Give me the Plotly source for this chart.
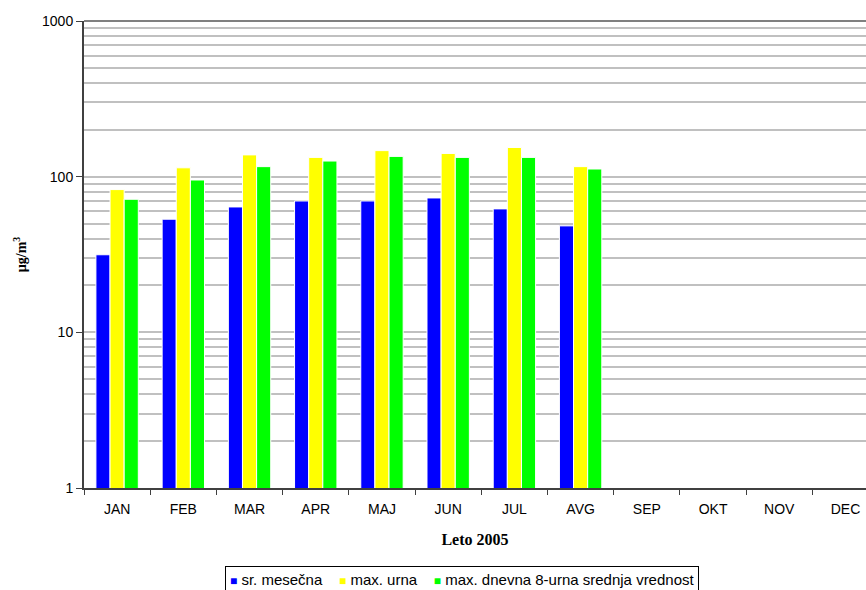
import plotly.graph_objects as go

months = ["JAN", "FEB", "MAR", "APR", "MAJ", "JUN", "JUL", "AVG", "SEP", "OKT", "NOV", "DEC"]
sr_mesecna = [31.5, 53.3, 63.9, 69.8, 69.8, 73, 62.1, 48.3, None, None, None, None]
max_urna = [82.6, 114, 138, 133, 147, 141, 154, 116, None, None, None, None]
max_dnevna_8 = [71.6, 95.2, 116, 126, 135, 133, 133, 112, None, None, None, None]

series = [
    ("sr. mesečna", sr_mesecna, "#0000ff"),
    ("max. urna", max_urna, "#ffff00"),
    ("max. dnevna 8-urna srednja vrednost", max_dnevna_8, "#00ff00"),
]

fig = go.Figure()
for name, vals, color in series:
    fig.add_trace(go.Bar(
        x=months, y=vals, name=name,
        marker=dict(color=color, line=dict(color="white", width=1)),
    ))

sans = "Liberation Sans, Arial, sans-serif"
serif = "Liberation Serif, Times New Roman, serif"

# compact boxed key below the axis title: small coloured squares right before each name
key_text = "&nbsp;&nbsp;&nbsp;&nbsp;".join(
    f"<span style='color:{color};font-size:12px'>■</span> {name}" for name, _, color in series
)

fig.update_layout(
    width=866, height=590,
    margin=dict(l=84, r=0, t=21, b=102),
    paper_bgcolor="white", plot_bgcolor="white",
    barmode="group", bargap=0.36, bargroupgap=0,
    font=dict(family=sans, size=14, color="black"),
    showlegend=False,
    xaxis=dict(
        range=[-0.5, 11.31],
        showline=True, linecolor="#404040", linewidth=1.5,
        ticks="outside", tickson="boundaries", ticklen=5, tickcolor="#404040",
        tickfont=dict(family=sans, size=14),
        ticklabelstandoff=7,
        showgrid=False,
        title=dict(text="Leto 2005", font=dict(family=serif, size=16, weight="bold"), standoff=18),
    ),
    yaxis=dict(
        type="log", range=[0, 3], dtick=1,
        showline=True, linecolor="#404040", linewidth=2,
        ticks="outside", ticklen=6, tickcolor="#404040",
        tickfont=dict(family=sans, size=14),
        showgrid=True, gridcolor="#c0c0c0", gridwidth=2,
        minor=dict(dtick="D1", showgrid=True, gridcolor="#c0c0c0", gridwidth=2, ticks=""),
        title=dict(text="µg/m<sup>3</sup>", font=dict(family=serif, size=14, weight="bold"), standoff=12),
        zeroline=False,
    ),
)

fig.add_annotation(
    text=key_text, xref="paper", yref="paper",
    x=(462 - 84) / (866 - 84), y=-(566 - 488) / (488 - 21),
    xanchor="center", yanchor="top", showarrow=False,
    font=dict(family=sans, size=15, color="black"),
    bordercolor="black", borderwidth=1, borderpad=4, bgcolor="white",
)

# darker top border of the plotting area at the 1000 level
fig.add_shape(type="line", xref="paper", yref="paper", x0=0, x1=1, y0=1, y1=1,
              line=dict(color="#808080", width=2))

fig.write_html("out.html")
